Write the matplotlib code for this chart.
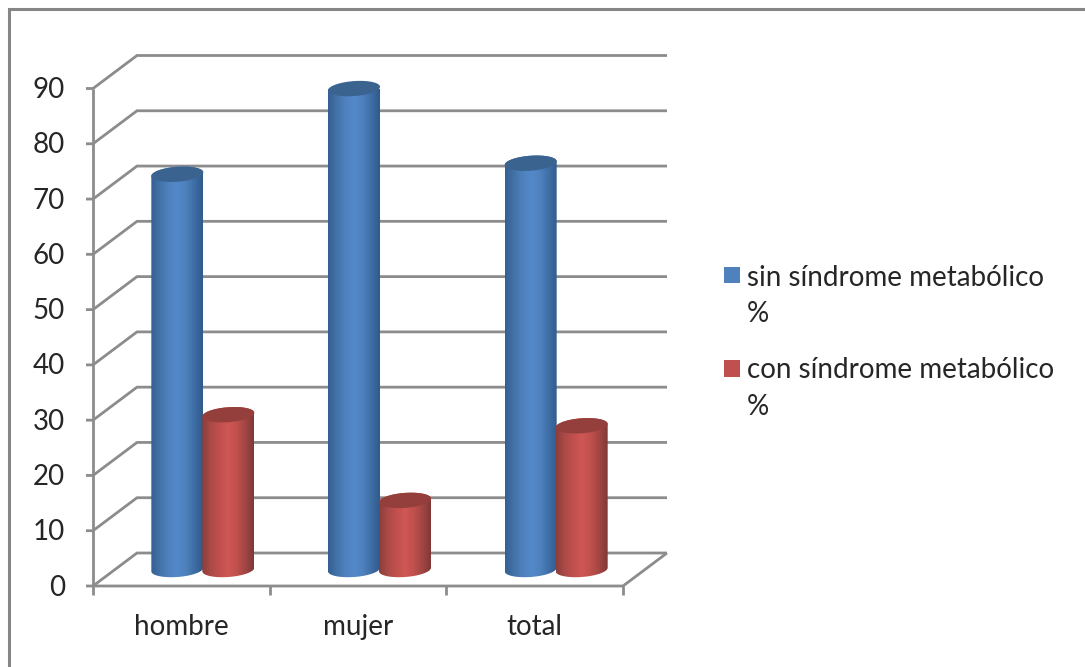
import numpy as np
import matplotlib
matplotlib.use("Agg")
import matplotlib.pyplot as plt
from matplotlib.colors import LinearSegmentedColormap
from matplotlib.lines import Line2D
from matplotlib.patches import Polygon, Rectangle
from matplotlib.path import Path

categories = ["hombre", "mujer", "total"]
sin_sindrome = [71.5, 87, 73.5]
con_sindrome = [28, 12.5, 26]
y_ticks = [0, 10, 20, 30, 40, 50, 60, 70, 80, 90]
series_names = ["sin síndrome metabólico\n%", "con síndrome metabólico\n%"]

W, H = 1085, 667
GRID = "#8c8c8c"
TEXT = "#262626"
FONT_SIZE = 20

plt.rcParams["font.family"] = ["Lato", "DejaVu Sans"]
fig = plt.figure(figsize=(W / 100, H / 100), dpi=100, facecolor="white")

# Front plane of the 3D box: x in category units, y in value units
left, right, top, bottom = 93, 623, 88.5, 586
ax = fig.add_axes([left / W, 1 - bottom / H, (right - left) / W, (bottom - top) / H])
ax.set_xlim(0, 3)
ax.set_ylim(0, 90)
ax.axis("off")

px_x = 3 / (right - left)
px_y = 90 / (bottom - top)
DX, DY = 44 * px_x, 33 * px_y  # depth of the box in data units


def line(xs, ys, lw=2.0):
    ax.plot(xs, ys, color=GRID, lw=lw, clip_on=False, solid_capstyle="butt",
            solid_joinstyle="miter", zorder=1)


# Walls: gridlines on the back wall and the slanted side wall
for v in y_ticks:
    line([-7 * px_x, 0, DX, 3 + DX], [v, v, v + DY, v + DY])
line([0, 0], [0, 90])
line([0, 3, 3 + DX], [0, 0, DY])
for i in range(4):
    line([i, i], [0, -9 * px_y])

blue_map = LinearSegmentedColormap.from_list(
    "blue", ["#345f92", "#4372a8", "#4f81bd", "#5389ca", "#4f81bd", "#3f6ea6", "#2f5a8a"])
red_map = LinearSegmentedColormap.from_list(
    "red", ["#8a3d3b", "#ab4a47", "#c0504d", "#cf5855", "#c0504d", "#a34643", "#7f3836"])
gradient = np.linspace(0, 1, 256)[None, :]


def cylinder(cx, value, cmap, lid):
    a = 26 * px_x
    b = 7.5 * px_y
    shear = (1.8 * px_y) / a
    base = 0.5 * DY
    t = np.linspace(0, 2 * np.pi, 120)
    ex, ey = a * np.cos(t), b * np.sin(t) + shear * a * np.cos(t)

    lower = np.linspace(np.pi, 2 * np.pi, 60)
    bx = cx + a * np.cos(lower)
    by = base + b * np.sin(lower) + shear * a * np.cos(lower)
    upper = np.linspace(0, np.pi, 60)
    ux = cx + a * np.cos(upper)
    uy = base + value + b * np.sin(upper) + shear * a * np.cos(upper)
    outline = np.column_stack([np.r_[bx, ux], np.r_[by, uy]])

    body = ax.imshow(gradient, cmap=cmap, aspect="auto", zorder=3,
                     extent=(cx - a, cx + a, -5, 100), interpolation="bilinear")
    body.set_clip_path(Path(outline), transform=ax.transData)
    ax.add_patch(Polygon(np.column_stack([cx + ex, base + value + ey]), closed=True,
                         fc=lid, ec="none", zorder=3.1, clip_on=False))


for i in range(len(categories)):
    cx = i + 0.5 + 21.5 * px_x
    cylinder(cx - 25.5 * px_x, sin_sindrome[i], blue_map, "#3a6390")
    cylinder(cx + 25.5 * px_x, con_sindrome[i], red_map, "#943f3c")

ax.set_xlim(0, 3)
ax.set_ylim(0, 90)

for v in y_ticks:
    ax.text(-28 * px_x, v - 1.5 * px_y, str(v), ha="right", va="center", fontsize=FONT_SIZE,
            color=TEXT, clip_on=False)
for i, name in enumerate(categories):
    ax.text(i + 0.5, -49 * px_y, name, ha="center", va="baseline", fontsize=FONT_SIZE,
            color=TEXT, clip_on=False)

# Legend swatches and labels, placed in figure pixels
to_fig = lambda x, y: (x / W, 1 - y / H)
for (sy, ty), col, name in zip([(275, 296), (368, 388.5)], ["#4f81bd", "#c0504d"], series_names):
    fig.add_artist(Rectangle(to_fig(723.5, sy + 8.5), 16 / W, 17 / H, fc=col, ec="none",
                             transform=fig.transFigure))
    fx, fy = to_fig(747, ty)
    fig.text(fx, fy, name, ha="left", va="center", fontsize=FONT_SIZE, color=TEXT, linespacing=1.5)

# Chart-area border: only the top and left edges fall inside the frame
fig.add_artist(Line2D([9 / W, 9 / W, 1], [0, 1 - 9 / H, 1 - 9 / H], color="#868686", lw=2.2,
                      solid_joinstyle="miter", transform=fig.transFigure))

fig.savefig("out.png", dpi=100)
